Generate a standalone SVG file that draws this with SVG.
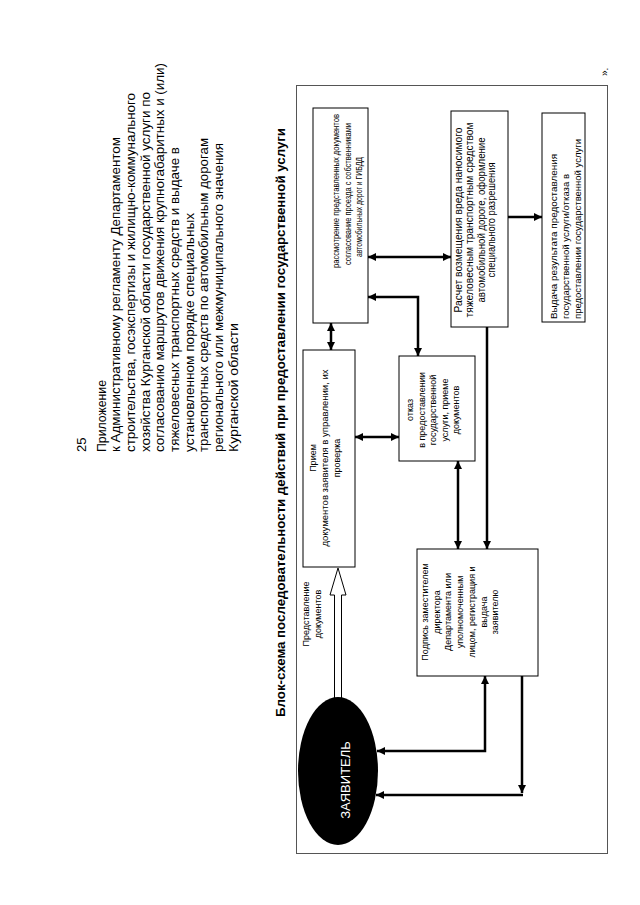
<svg xmlns="http://www.w3.org/2000/svg" width="640" height="905" viewBox="0 0 640 905">
<style>
.t{font-family:"Liberation Sans",Arial,sans-serif;fill:#000}
.h{font-size:13px}
.b{font-size:9px}
.box{fill:#fff;stroke:#000;stroke-width:1}
.frame{fill:none;stroke:#555;stroke-width:1}
.conn{fill:none;stroke:#000;stroke-width:2.5}
</style>
<defs>
<marker id="ah" viewBox="0 0 8 8" markerUnits="userSpaceOnUse" markerWidth="8" markerHeight="8" refX="8" refY="4" orient="auto-start-reverse">
<path d="M0,0 L8,4 L0,8 z" fill="#000"/>
</marker>
</defs>
<rect width="640" height="905" fill="#fff"/>

<g id="header" class="t h">
<text transform="translate(86,452) rotate(-90)">25</text>
<text transform="translate(105.5,452) rotate(-90)" textLength="72" lengthAdjust="spacingAndGlyphs">Приложение</text>
<text transform="translate(120.2,452) rotate(-90)" textLength="315" lengthAdjust="spacingAndGlyphs">к Административному регламенту Департаментом</text>
<text transform="translate(134.9,452) rotate(-90)" textLength="359" lengthAdjust="spacingAndGlyphs">строительства, госэкспертизы и жилищно-коммунального</text>
<text transform="translate(149.6,452) rotate(-90)" textLength="360" lengthAdjust="spacingAndGlyphs">хозяйства Курганской области государственной услуги по</text>
<text transform="translate(164.3,452) rotate(-90)" textLength="389" lengthAdjust="spacingAndGlyphs">согласованию маршрутов движения крупногабаритных и (или)</text>
<text transform="translate(179,452) rotate(-90)" textLength="305" lengthAdjust="spacingAndGlyphs">тяжеловесных транспортных средств и выдаче в</text>
<text transform="translate(193.7,452) rotate(-90)" textLength="239" lengthAdjust="spacingAndGlyphs">установленном порядке специальных</text>
<text transform="translate(208.4,452) rotate(-90)" textLength="314" lengthAdjust="spacingAndGlyphs">транспортных средств по автомобильным дорогам</text>
<text transform="translate(223.1,452) rotate(-90)" textLength="309" lengthAdjust="spacingAndGlyphs">регионального или межмуниципального значения</text>
<text transform="translate(237.8,452) rotate(-90)" textLength="129" lengthAdjust="spacingAndGlyphs">Курганской области</text>
</g>

<g id="title" class="t">
<text transform="translate(285,717) rotate(-90)" style="font-size:12px;font-weight:bold" textLength="589" lengthAdjust="spacingAndGlyphs">Блок-схема последовательности действий при предоставлении государственной услуги</text>
</g>

<text class="t" transform="translate(608,76) rotate(-90)" style="font-size:10px">».</text>

<rect id="frame" class="frame" x="296.5" y="85.5" width="311" height="768"/>

<g id="connectors">
<line class="conn" x1="331" y1="323" x2="331" y2="350" marker-start="url(#ah)" marker-end="url(#ah)"/>
<line class="conn" x1="368" y1="257" x2="451" y2="257" marker-start="url(#ah)" marker-end="url(#ah)"/>
<polyline class="conn" points="368,297 418,297 418,356" marker-start="url(#ah)" marker-end="url(#ah)"/>
<line class="conn" x1="508" y1="217" x2="542" y2="217" marker-end="url(#ah)"/>
<line class="conn" x1="487" y1="327" x2="487" y2="549" marker-end="url(#ah)"/>
<line class="conn" x1="355" y1="437" x2="399" y2="437" marker-start="url(#ah)" marker-end="url(#ah)"/>
<line class="conn" x1="458" y1="461" x2="458" y2="549" marker-start="url(#ah)" marker-end="url(#ah)"/>
<polyline class="conn" points="485,676 485,751 377,751" marker-start="url(#ah)" marker-end="url(#ah)"/>
<line class="conn" x1="522" y1="676" x2="522" y2="793" marker-end="url(#ah)"/>
<line class="conn" x1="523" y1="795" x2="376" y2="795" marker-end="url(#ah)"/>
<polygon points="334.5,705 334.5,595 330,595 338,568 346,595 341.5,595 341.5,705" fill="#fff" stroke="#000" stroke-width="1"/>
<text class="t b" transform="translate(309,614) rotate(-90)" text-anchor="middle">Представление</text>
<text class="t b" transform="translate(321,614) rotate(-90)" text-anchor="middle">документов</text>
</g>

<g id="n-review">
<rect class="box" x="313" y="108" width="55" height="215"/>
<text class="t" style="font-size:9.5px" transform="translate(339,191) rotate(-90)" text-anchor="middle" textLength="154" lengthAdjust="spacingAndGlyphs">рассмотрение представленных документов</text>
<text class="t" style="font-size:9.5px" transform="translate(350.5,194) rotate(-90)" text-anchor="middle" textLength="142" lengthAdjust="spacingAndGlyphs">согласование проезда с собственниками</text>
<text class="t" style="font-size:9.5px" transform="translate(362,207) rotate(-90)" text-anchor="middle" textLength="100" lengthAdjust="spacingAndGlyphs">автомобильных дорог и ГИБДД</text>
</g>

<g id="n-calc">
<rect class="box" x="451" y="111" width="57" height="216"/>
<text class="t" style="font-size:10px" transform="translate(461.5,220) rotate(-90)" text-anchor="middle" textLength="185" lengthAdjust="spacingAndGlyphs">Расчет возмещения вреда наносимого</text>
<text class="t" style="font-size:10px" transform="translate(473,220) rotate(-90)" text-anchor="middle" textLength="195" lengthAdjust="spacingAndGlyphs">тяжеловесным транспортным средством</text>
<text class="t" style="font-size:10px" transform="translate(484.5,220) rotate(-90)" text-anchor="middle" textLength="165" lengthAdjust="spacingAndGlyphs">автомобильной дороге, оформление</text>
<text class="t" style="font-size:10px" transform="translate(495,220) rotate(-90)" text-anchor="middle" textLength="115" lengthAdjust="spacingAndGlyphs">специального разрешения</text>
</g>

<g id="n-result">
<rect class="box" x="542" y="113" width="43" height="209"/>
<text class="t" style="font-size:9.5px" transform="translate(556.5,319) rotate(-90)" textLength="165" lengthAdjust="spacingAndGlyphs">Выдача результата предоставления</text>
<text class="t" style="font-size:9.5px" transform="translate(568.5,319) rotate(-90)" textLength="145" lengthAdjust="spacingAndGlyphs">государственной услуги/отказа в</text>
<text class="t" style="font-size:9.5px" transform="translate(580.5,319) rotate(-90)" textLength="180" lengthAdjust="spacingAndGlyphs">предоставлении государственной услуги</text>
</g>

<g id="n-receive">
<rect class="box" x="303" y="350" width="52" height="217"/>
<text class="t b" transform="translate(316,458) rotate(-90)" text-anchor="middle">Прием</text>
<text class="t b" transform="translate(328,458) rotate(-90)" text-anchor="middle" textLength="177" lengthAdjust="spacingAndGlyphs">документов заявителя в управлении, их</text>
<text class="t b" transform="translate(340,458) rotate(-90)" text-anchor="middle">проверка</text>
</g>

<g id="n-refuse">
<rect class="box" x="399" y="356" width="76" height="105"/>
<text class="t b" transform="translate(413,410) rotate(-90)" text-anchor="middle">отказ</text>
<text class="t b" transform="translate(424.5,410) rotate(-90)" text-anchor="middle">в предоставлении</text>
<text class="t b" transform="translate(436,410) rotate(-90)" text-anchor="middle">государственной</text>
<text class="t b" transform="translate(447.5,410) rotate(-90)" text-anchor="middle">услуги, приеме</text>
<text class="t b" transform="translate(459,410) rotate(-90)" text-anchor="middle">документов</text>
</g>

<g id="n-sign">
<rect class="box" x="417" y="549" width="121" height="127"/>
<text class="t b" transform="translate(428,612) rotate(-90)" text-anchor="middle">Подпись заместителем</text>
<text class="t b" transform="translate(439.7,612) rotate(-90)" text-anchor="middle">директора</text>
<text class="t b" transform="translate(451.4,612) rotate(-90)" text-anchor="middle">Департамента или</text>
<text class="t b" transform="translate(463.1,612) rotate(-90)" text-anchor="middle">уполномоченным</text>
<text class="t b" transform="translate(474.8,612) rotate(-90)" text-anchor="middle">лицом, регистрация и</text>
<text class="t b" transform="translate(486.5,612) rotate(-90)" text-anchor="middle">выдача</text>
<text class="t b" transform="translate(498.2,612) rotate(-90)" text-anchor="middle">заявителю</text>
</g>

<g id="n-applicant">
<ellipse cx="338" cy="771" rx="40" ry="74" fill="#000"/>
<text class="t" transform="translate(350,780) rotate(-90)" text-anchor="middle" style="font-size:13px;fill:#fff">ЗАЯВИТЕЛЬ</text>
</g>
</svg>
